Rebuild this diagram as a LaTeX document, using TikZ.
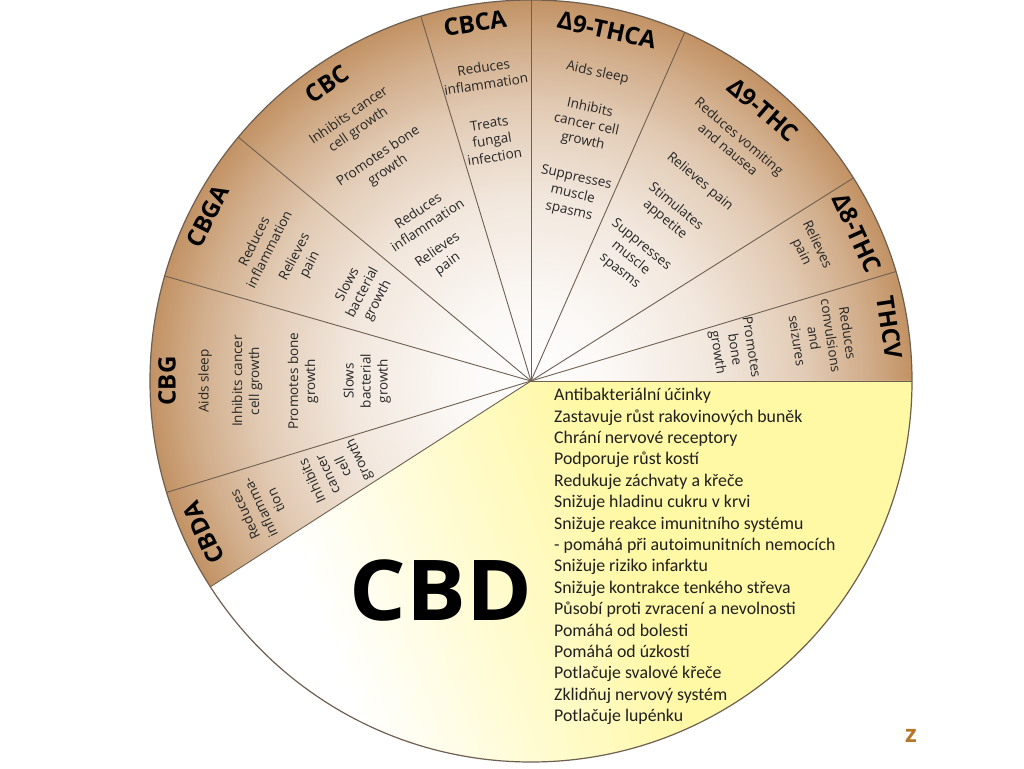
\documentclass[tikz,border=0pt]{standalone}
\usepackage{fontspec}
\setmainfont{Carlito}
\newfontfamily\wheelfont{Open Sans}
\definecolor{tanedge}{RGB}{194,146,100}
\colorlet{tanA}{tanedge!6!white}
\colorlet{tanB}{tanedge!22!white}
\colorlet{tanC}{tanedge!48!white}
\colorlet{tanD}{tanedge!75!white}
\definecolor{cbdyel}{RGB}{255,248,165}
\definecolor{zcol}{RGB}{180,118,40}
\definecolor{rimcol}{RGB}{110,95,80}
\pgfdeclareradialshading{wheelshade}{\pgfpoint{0bp}{0bp}}{color(0bp)=(white); color(5bp)=(tanA); color(12bp)=(tanB); color(18bp)=(tanC); color(22bp)=(tanD); color(25bp)=(tanedge); color(50bp)=(tanedge)}
\newcommand\wtxt[5]{\node[#1, rotate=#2-90] (#5) at (#2:#3) {#4};}
\begin{document}
\begin{tikzpicture}[x=1pt,y=1pt,
  body/.style={font=\wheelfont\fontsize{13.5}{17}\selectfont, align=center, text=black!85, inner sep=0pt},
  ttl/.style={font=\wheelfont\bfseries\fontsize{24}{24}\selectfont, text=black, inner sep=0pt},
  sectorline/.style={draw=rimcol, line width=0.9pt},
  rimline/.style={draw=rimcol, line width=1.2pt},
  listtext/.style={font=\fontsize{17.8}{21}\selectfont, text=black!88, inner sep=0pt, anchor=base west}]
\useasboundingbox (0,0) rectangle (1024,768);
\fill[white] (0,0) rectangle (1024,768);
\begin{scope}[shift={(531,387)}]
  \coordinate (c) at (0,0);
  % brown sectors
  \begin{scope}
    \clip (c) -- (0:381) arc[start angle=0,end angle=212.7,radius=381] -- cycle;
    \path[shading=wheelshade] (c) circle[radius=381];
  \end{scope}
  % CBD sector
  \begin{scope}
    \clip (c) -- (212.7:381) arc[start angle=212.7,end angle=360,radius=381] -- cycle;
    \begin{scope}[rotate=20]
      \fill[white] (-450,-450) rectangle (-279,450);
      \foreach \k in {0,...,63} {
        \pgfmathsetmacro\pct{100*\k/63}
        \fill[cbdyel!\pct!white] (-280+5*\k,-450) rectangle (-280+5*\k+5.6,450);
      }
      \fill[cbdyel] (40,-450) rectangle (450,450);
    \end{scope}
  \end{scope}
  % sector lines
  \foreach \a in {0,16.7,32.2,66.2,90,106.8,140.2,164,197,212.7}
    \draw[sectorline] (c) -- (\a:381);
  \draw[rimline] (c) circle[radius=381];

  % CBDA
  \wtxt{ttl}{204.9}{361}{CBDA}{cbdaT}
  \wtxt{body}{205.1}{299}{Reduces\\inflamma-\\tion}{cbdaA}
  \wtxt{body}{204.6}{214}{Inhibits\\cancer\\cell\\growth}{cbdaB}
  % CBG
  \wtxt{ttl}{180}{364}{CBG}{cbgT}
  \wtxt{body}{180}{326}{Aids sleep}{cbgA}
  \wtxt{body}{180}{284}{Inhibits cancer\\cell growth}{cbgB}
  \wtxt{body}{180}{228}{Promotes bone\\growth}{cbgC}
  \wtxt{body}{180}{164}{Slows\\bacterial\\growth}{cbgD}
  % CBGA
  \wtxt{ttl}{153}{363}{CBGA}{cbgaT}
  \wtxt{body}{153.3}{302}{Reduces\\inflammation}{cbgaA}
  \wtxt{body}{152.3}{258}{Relieves\\pain}{cbgaB}
  \wtxt{body}{152.3}{190}{Slows\\bacterial\\growth}{cbgaC}
  % CBC
  \wtxt{ttl}{124.5}{360}{CBC}{cbcT}
  \wtxt{body}{124.5}{313}{Inhibits cancer\\cell growth}{cbcA}
  \wtxt{body}{124.2}{263}{Promotes bone\\growth}{cbcB}
  \wtxt{body}{123.6}{196}{Reduces\\inflammation}{cbcC}
  \wtxt{body}{125.5}{152}{Relieves\\pain}{cbcD}
  % CBCA
  \wtxt{ttl}{98.9}{362}{CBCA}{cbcaT}
  \wtxt{body}{98.6}{309}{Reduces\\inflammation}{cbcaA}
  \wtxt{body}{99.2}{244}{Treats\\fungal\\infection}{cbcaB}
  % D9-THCA
  \wtxt{ttl}{77.8}{359}{Δ9-THCA}{thcaT}
  \wtxt{body}{77.8}{315}{Aids sleep}{thcaA}
  \wtxt{body}{77.8}{262}{Inhibits\\cancer cell\\growth}{thcaB}
  \wtxt{body}{77.4}{191}{Suppresses\\muscle\\spasms}{thcaC}
  % D9-THC
  \wtxt{ttl}{49.4}{357}{Δ9-THC}{thcT}
  \wtxt{body}{49.6}{313}{Reduces vomiting\\and nausea}{thcA}
  \wtxt{body}{49.7}{261}{Relieves pain}{thcB}
  \wtxt{body}{50.3}{218}{Stimulates\\appetite}{thcC}
  \wtxt{body}{51}{158}{Suppresses\\muscle\\spasms}{thcD}
  % D8-THC
  \wtxt{ttl}{24.4}{358}{Δ8-THC}{dthcT}
  \wtxt{body}{25.5}{308}{Relieves\\pain}{dthcA}
  % THCV
  \wtxt{ttl}{8.5}{363}{THCV}{thcvT}
  \wtxt{body}{8.6}{295}{Reduces\\convulsions\\and\\seizures}{thcvA}
  \wtxt{body}{8.7}{205}{Promotes\\bone\\growth}{thcvB}
\end{scope}

% CBD big title
\node[font=\wheelfont\bfseries\fontsize{84}{84}\selectfont, inner sep=0pt, xscale=1.06] (cbd) at (441,177.5) {CBD};

% CBD list
\foreach \t [count=\i] in {Antibakteriální účinky,
  Zastavuje růst rakovinových buněk,
  Chrání nervové receptory,
  Podporuje růst kostí,
  Redukuje záchvaty a křeče,
  Snižuje hladinu cukru v krvi,
  Snižuje reakce imunitního systému,
  - pomáhá při autoimunitních nemocích,
  Snižuje riziko infarktu,
  Snižuje kontrakce tenkého střeva,
  Působí proti zvracení a nevolnosti,
  Pomáhá od bolesti,
  Pomáhá od úzkostí,
  Potlačuje svalové křeče,
  Zklidňuj nervový systém,
  Potlačuje lupénku}
  \node[listtext] (cbdl\i) at (554, 367.3-21.4*\i+21.4) {\t};

% z mark
\node[font=\wheelfont\bfseries\fontsize{24}{24}\selectfont, text=zcol, inner sep=0pt] (zmark) at (911,32.5) {z};
\end{tikzpicture}
\end{document}
